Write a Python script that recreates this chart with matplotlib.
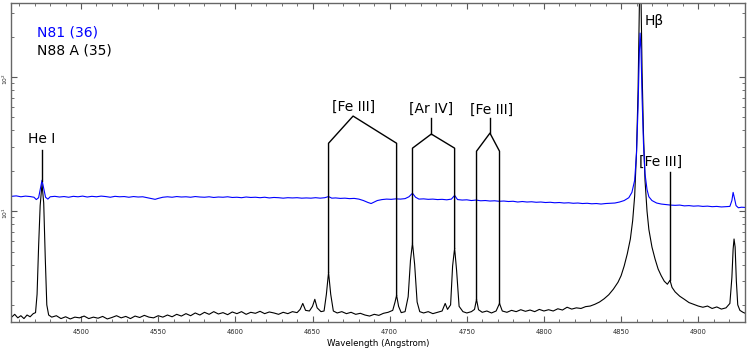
import numpy as np
import matplotlib
matplotlib.use("Agg")
import matplotlib.pyplot as plt

# N88 A (35) spectrum - black
wlBlack = [4455, 4457, 4459, 4461, 4463, 4465, 4467, 4469, 4470.5, 4471.5, 4472.5, 4473.5, 4474.7,
           4475.8, 4476.8, 4477.8, 4479, 4481, 4484, 4487, 4490, 4493, 4496, 4499, 4502, 4505, 4508,
           4511, 4514, 4517, 4520, 4523, 4526, 4529, 4532, 4535, 4538, 4541, 4544, 4547, 4550, 4553,
           4556, 4559, 4562, 4565, 4568, 4571, 4574, 4577, 4580, 4583, 4586, 4589, 4592, 4595, 4598,
           4601, 4604, 4607, 4610, 4613, 4616, 4619, 4622, 4625, 4628, 4631, 4634, 4637, 4640, 4642,
           4643.7, 4645.5, 4648, 4650, 4651.5, 4653, 4655.5, 4657.5, 4659, 4660.4, 4661.8, 4663.5, 4666,
           4669, 4672, 4675, 4678, 4681, 4684, 4687, 4690, 4693, 4696, 4699, 4702, 4703.5, 4704.5,
           4705.8, 4707.5, 4710, 4712, 4713.5, 4714.8, 4716.2, 4717.8, 4719.5, 4722, 4725, 4728, 4731,
           4734, 4736, 4737.5, 4739.5, 4740.8, 4742.1, 4743.4, 4745, 4747.5, 4750, 4753, 4755, 4756.3,
           4757.6, 4760, 4763, 4766, 4769, 4771.2, 4773, 4776, 4779, 4782, 4785, 4788, 4791, 4794, 4797,
           4800, 4803, 4806, 4809, 4812, 4815, 4818, 4821, 4824, 4827, 4830, 4833, 4836, 4839, 4842,
           4845, 4848, 4850, 4852, 4854, 4856, 4857.5, 4858.8, 4860, 4861, 4861.8, 4862.3, 4862.9,
           4863.6, 4864.5, 4865.5, 4866.8, 4868, 4870, 4872, 4874, 4876, 4878, 4880, 4881.7, 4883, 4885,
           4888, 4891, 4894, 4897, 4900, 4903, 4906, 4909, 4912, 4915, 4918, 4920.5, 4921.8, 4922.6,
           4923.2, 4923.9, 4924.7, 4925.6, 4927, 4929, 4931]
fluxBlack = [1.62, 1.70, 1.60, 1.66, 1.58, 1.68, 1.63, 1.72, 1.75, 2.4, 5.5, 11.0, 16.0,
             11.5, 4.5, 2.0, 1.68, 1.62, 1.66, 1.58, 1.63, 1.57, 1.62, 1.60, 1.65, 1.58, 1.62,
             1.59, 1.64, 1.57, 1.61, 1.66, 1.60, 1.64, 1.58, 1.65, 1.61, 1.67, 1.62, 1.60, 1.66, 1.62,
             1.68, 1.63, 1.70, 1.65, 1.72, 1.66, 1.74, 1.68, 1.76, 1.70, 1.78, 1.71, 1.75, 1.69, 1.77,
             1.72, 1.78, 1.70, 1.76, 1.73, 1.79, 1.72, 1.77, 1.74, 1.70, 1.76, 1.72, 1.78, 1.75, 1.85,
             2.05, 1.82, 1.80, 1.95, 2.20, 1.90, 1.78, 1.80, 2.4, 3.5, 2.4, 1.80, 1.74,
             1.78, 1.72, 1.76, 1.70, 1.73, 1.68, 1.65, 1.70, 1.67, 1.73, 1.76, 1.82, 2.1, 2.36,
             1.95, 1.75, 1.78, 2.3, 4.3, 5.8, 4.0, 2.1, 1.78, 1.74, 1.78, 1.72, 1.76,
             1.80, 2.05, 1.85, 2.0, 3.9, 5.3, 3.6, 1.95, 1.78, 1.74, 1.78, 1.85, 2.2,
             1.84, 1.76, 1.80, 1.74, 1.80, 2.05, 1.80, 1.76, 1.82, 1.78, 1.84, 1.79, 1.83, 1.78, 1.85,
             1.80, 1.84, 1.80, 1.87, 1.83, 1.92, 1.86, 1.90, 1.88, 1.94, 1.96, 2.02, 2.10, 2.22, 2.38,
             2.62, 2.95, 3.3, 3.9, 4.8, 6.2, 8.5, 13, 28, 80, 300, 900, 400,
             110, 38, 17, 10, 7.3, 5.4, 4.4, 3.7, 3.3, 3.0, 2.85, 3.05, 2.7, 2.5,
             2.32, 2.2, 2.08, 2.02, 1.96, 1.92, 1.96, 1.88, 1.93, 1.86, 1.90, 2.05, 3.2, 5.2,
             6.2, 5.4, 3.0, 2.0, 1.82, 1.76, 1.72]

# N81 (36) spectrum - blue
wlBlue = [4455, 4458, 4461, 4464, 4467, 4469.5, 4471, 4472.5, 4473.5, 4474.7, 4475.8, 4477, 4478.5,
          4480, 4483, 4486, 4489, 4492, 4495, 4498, 4501, 4504, 4507, 4510, 4513, 4516, 4519, 4522,
          4525, 4528, 4531, 4534, 4537, 4540, 4543, 4546, 4548, 4550, 4553, 4556, 4559, 4562, 4565,
          4568, 4571, 4574, 4577, 4580, 4583, 4586, 4589, 4592, 4595, 4598, 4601, 4604, 4607, 4610,
          4613, 4616, 4619, 4622, 4625, 4628, 4631, 4634, 4637, 4640, 4643, 4646, 4649, 4652, 4655,
          4658, 4660.4, 4662.5, 4665, 4668, 4671, 4674, 4677, 4680, 4683, 4686, 4688, 4690, 4692,
          4695, 4698, 4701, 4704, 4707, 4710, 4712.5, 4714.8, 4716.8, 4719, 4722, 4725, 4728, 4731,
          4734, 4737, 4740, 4742.1, 4744, 4747, 4750, 4753, 4756, 4759, 4762, 4765, 4768, 4771, 4774,
          4777, 4780, 4783, 4786, 4789, 4792, 4795, 4798, 4801, 4804, 4807, 4810, 4813, 4816, 4819,
          4822, 4825, 4828, 4831, 4834, 4837, 4840, 4843, 4846, 4849, 4852, 4855, 4857, 4858.8, 4860,
          4861, 4861.8, 4862.3, 4862.9, 4863.6, 4864.5, 4865.5, 4866.8, 4868, 4870, 4873, 4876, 4879,
          4882, 4885, 4888, 4891, 4894, 4897, 4900, 4903, 4906, 4909, 4912, 4915, 4918, 4920.5,
          4921.8, 4922.6, 4923.4, 4924.5, 4926, 4928, 4931]
fluxBlue = [12.9, 13.0, 12.8, 12.95, 12.85, 12.7, 12.2, 12.6, 14.5, 17.0, 14.8, 12.7, 12.3,
            12.8, 12.9, 12.75, 12.85, 12.7, 12.9, 12.8, 12.95, 12.75, 12.9, 12.8, 12.95, 12.85, 12.7, 12.9,
            12.8, 12.85, 12.7, 12.85, 12.75, 12.8, 12.6, 12.4, 12.25, 12.45, 12.7, 12.8, 12.7, 12.85, 12.75,
            12.8, 12.7, 12.85, 12.75, 12.7, 12.8, 12.65, 12.75, 12.7, 12.8, 12.65, 12.7, 12.6, 12.75, 12.65,
            12.7, 12.6, 12.7, 12.55, 12.65, 12.6, 12.5, 12.6, 12.55, 12.6, 12.5, 12.55, 12.5, 12.6, 12.5,
            12.6, 12.85, 12.5, 12.55, 12.45, 12.5, 12.4, 12.45, 12.3, 12.0, 11.6, 11.4, 11.7, 12.0,
            12.2, 12.3, 12.25, 12.35, 12.3, 12.4, 12.8, 13.6, 12.7, 12.3, 12.35, 12.25, 12.3, 12.2,
            12.25, 12.15, 12.3, 13.1, 12.2, 12.1, 12.15, 12.0, 12.1, 11.95, 12.0, 11.9, 11.95, 11.85, 11.9,
            11.8, 11.85, 11.7, 11.8, 11.7, 11.75, 11.65, 11.7, 11.6, 11.65, 11.55, 11.6, 11.5, 11.55, 11.45,
            11.5, 11.4, 11.45, 11.35, 11.4, 11.3, 11.4, 11.45, 11.5, 11.7, 12.0, 12.6, 13.8, 17, 27,
            60, 150, 213, 160, 70, 32, 19, 14.5, 12.8, 12.0, 11.5, 11.3, 11.2,
            11.1, 11.05, 11.1, 10.95, 11.0, 10.9, 10.95, 10.85, 10.9, 10.8, 10.85, 10.75, 10.8, 10.85,
            12.0, 13.8, 12.6, 11.0, 10.6, 10.7, 10.65]

# line identifications
heX, heTop, heBot, heText = 4474.7, 28.5, 16.8, 30.5
fe1Apex, fe1Legs, fe1Top, fe1LegY, fe1Ends = 4676.3, [4660.4, 4704.5], 51.2, 32.1, [3.5, 2.36]
arApex, arLegs, arStem, arLegY, arEnds = 4727.0, [4714.8, 4742.1], [49.4, 37.6], 29.5, [5.8, 5.3]
fe2Apex, fe2Legs, fe2Stem, fe2LegY, fe2Ends = 4765.0, [4756.3, 4771.2], [49.4, 38.2], 28.0, [2.2, 2.05]
fe3X, fe3Top, fe3Bot, fe3Text = 4881.7, 19.5, 3.05, 20.6
hbX, hbY = 4865.5, 260

fig = plt.figure(figsize=(7.47, 3.51), dpi=100)
ax = fig.add_axes([11/747, 1 - 322/351, 734/747, 319/351])

ax.plot(wlBlack, fluxBlack, color="black", lw=0.8)
ax.plot(wlBlue, fluxBlue, color="blue", lw=0.8)
ax.set_yscale("log")
ax.set_xlim(4454.6, 4930.3)
ax.set_ylim(1.49, 357)

lk = dict(color="black", lw=1.0)
tk = dict(fontsize=10, ha="center", va="bottom")
# He I
ax.plot([heX, heX], [heTop, heBot], **lk)
ax.text(heX, heText, "He I", **tk)
# [Fe III] pair 1
ax.plot([fe1Legs[0], fe1Legs[0], fe1Apex, fe1Legs[1], fe1Legs[1]],
        [fe1Ends[0], fe1LegY, fe1Top, fe1LegY, fe1Ends[1]], **lk)
ax.text(fe1Apex, 53.0, "[Fe III]", **tk)
# [Ar IV]
ax.plot([arLegs[0], arLegs[0], arApex, arLegs[1], arLegs[1]],
        [arEnds[0], arLegY, arStem[1], arLegY, arEnds[1]], **lk)
ax.plot([arApex, arApex], arStem, **lk)
ax.text(arApex, 51.5, "[Ar IV]", **tk)
# [Fe III] pair 2
ax.plot([fe2Legs[0], fe2Legs[0], fe2Apex, fe2Legs[1], fe2Legs[1]],
        [fe2Ends[0], fe2LegY, fe2Stem[1], fe2LegY, fe2Ends[1]], **lk)
ax.plot([fe2Apex, fe2Apex], fe2Stem, **lk)
ax.text(fe2Apex + 1, 50.5, "[Fe III]", **tk)
# [Fe III] single
ax.plot([fe3X, fe3X], [fe3Top, fe3Bot], **lk)
ax.text(fe3X - 6, fe3Text, "[Fe III]", **tk)
# H beta
ax.text(hbX, hbY, "Hβ", fontsize=10, ha="left", va="center")

# object names
ax.text(0.035, 0.909, "N81 (36)", color="blue", fontsize=10, transform=ax.transAxes, va="center")
ax.text(0.035, 0.850, "N88 A (35)", color="black", fontsize=10, transform=ax.transAxes, va="center")

# axes styling
ax.set_xticks([4500, 4550, 4600, 4650, 4700, 4750, 4800, 4850, 4900])
ax.set_xticks(np.arange(4460, 4931, 10), minor=True)
ax.tick_params(which="both", direction="in", top=True, right=True, colors="0.35",
               labelcolor="0.15", labelsize=4.8)
ax.tick_params(which="major", length=4, width=0.8)
ax.tick_params(which="minor", length=2.2, width=0.6)
ax.tick_params(axis="y", labelrotation=90, pad=0.5, labelsize=4.3)
ax.tick_params(axis="x", pad=5)
for s in ax.spines.values():
    s.set_color("0.4")
    s.set_linewidth(1.0)
ax.set_xlabel("Wavelength (Angstrom)", fontsize=6.2, labelpad=3)

fig.savefig("out.png", dpi=100)
